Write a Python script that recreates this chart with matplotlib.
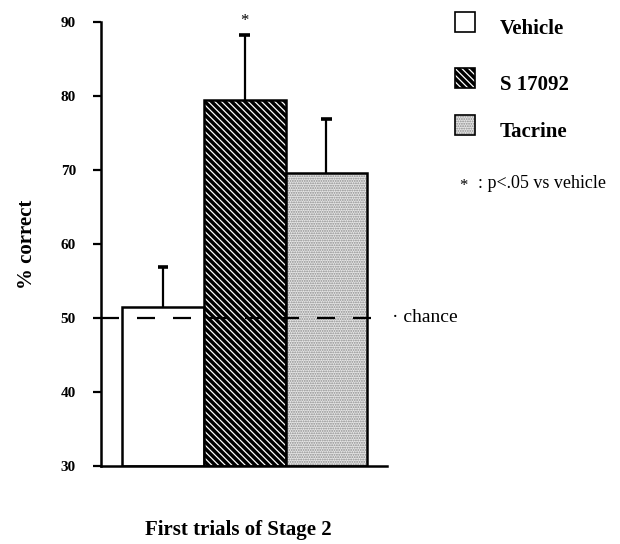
import matplotlib
matplotlib.use("Agg")
import matplotlib.pyplot as plt
from matplotlib.patches import Rectangle
import numpy as np

#------------------------------------------------------------------------------

groups = ['Vehicle', 'S 17092', 'Tacrine']
means = [51.5, 79.5, 69.6]
err_up = [5.4, 8.8, 7.3]
chance = 50
y_ticks = [30, 40, 50, 60, 70, 80, 90]
signif = [False, True, False]

#------------------------------------------------------------------------------

plt.rcParams['font.family'] = ['Liberation Serif', 'DejaVu Serif']
plt.rcParams['hatch.linewidth'] = 0.9

fig = plt.figure(figsize=(6.2, 5.44), dpi=100)
ax = fig.add_axes([101/620, 1 - 466/544, 286/620, 444/544])

x = np.arange(len(groups))
tops = np.array(means) + np.array(err_up)

# styles per bar: (face, hatch, hatch colour)
styles = [('white', None, 'black'),
          ('black', '\\' * 5, 'white'),
          ('#e6e6e6', '.......', '#8a8a8a')]

for xi, m, (fc, h, hc) in zip(x, means, styles):
    ax.bar(xi, m - 30, bottom=30, width=1.0, color=fc, hatch=h,
           edgecolor=hc, linewidth=0)
    ax.bar(xi, m - 30, bottom=30, width=1.0, fill=False,
           edgecolor='black', linewidth=1.8)

# upper error bars only
ax.vlines(x, means, tops, color='black', lw=1.6)
ax.hlines(tops, x - 0.065, x + 0.065, color='black', lw=2.6)

for xi, t, s in zip(x, tops, signif):
    if s:
        ax.text(xi, t + 0.8, '*', ha='center', va='bottom', fontsize=12)

# chance line
ax.plot([-0.757, 2.59], [chance, chance], color='black', lw=1.6,
        dashes=(8.1, 8.1), clip_on=False)
ax.text(2.80, chance, '· chance', ha='left', va='center', fontsize=14,
        clip_on=False)

ax.set_xlim(-0.757, 2.74)
ax.set_ylim(30, 90)
ax.set_yticks(y_ticks)
ax.set_yticklabels([str(t) for t in y_ticks], fontweight='bold', fontsize=11)
ax.set_xticks([])
ax.tick_params(axis='y', direction='out', length=6, width=1.6, pad=12)
for sp in ['top', 'right']:
    ax.spines[sp].set_visible(False)
for sp in ['left', 'bottom']:
    ax.spines[sp].set_linewidth(1.8)

ax.set_ylabel('% correct', fontsize=15, fontweight='bold', labelpad=17)
fig.text(238/620, 1 - 530/544, 'First trials of Stage 2', ha='center',
         va='center', fontsize=15, fontweight='bold')

#------------------------------------------------------------------------------
# legend

leg_y = [22, 78, 125]
for (fc, h, hc), name, yp in zip(styles, groups, leg_y):
    y0 = 1 - (yp + 10) / 544
    fig.add_artist(Rectangle((455/620, y0), 20/620, 20/544, facecolor=fc,
                             hatch=h, edgecolor=hc, linewidth=0,
                             transform=fig.transFigure))
    fig.add_artist(Rectangle((455/620, y0), 20/620, 20/544, fill=False,
                             edgecolor='black', linewidth=1.2,
                             transform=fig.transFigure))
    fig.text(500/620, 1 - (yp + 7) / 544, name, ha='left', va='center',
             fontsize=15, fontweight='bold')

fig.text(463/620, 1 - 186/544, '*', ha='center', va='center', fontsize=12)
fig.text(478/620, 1 - 183/544, ': p<.05 vs vehicle', ha='left', va='center',
         fontsize=13)

fig.savefig('out.png', dpi=100)
